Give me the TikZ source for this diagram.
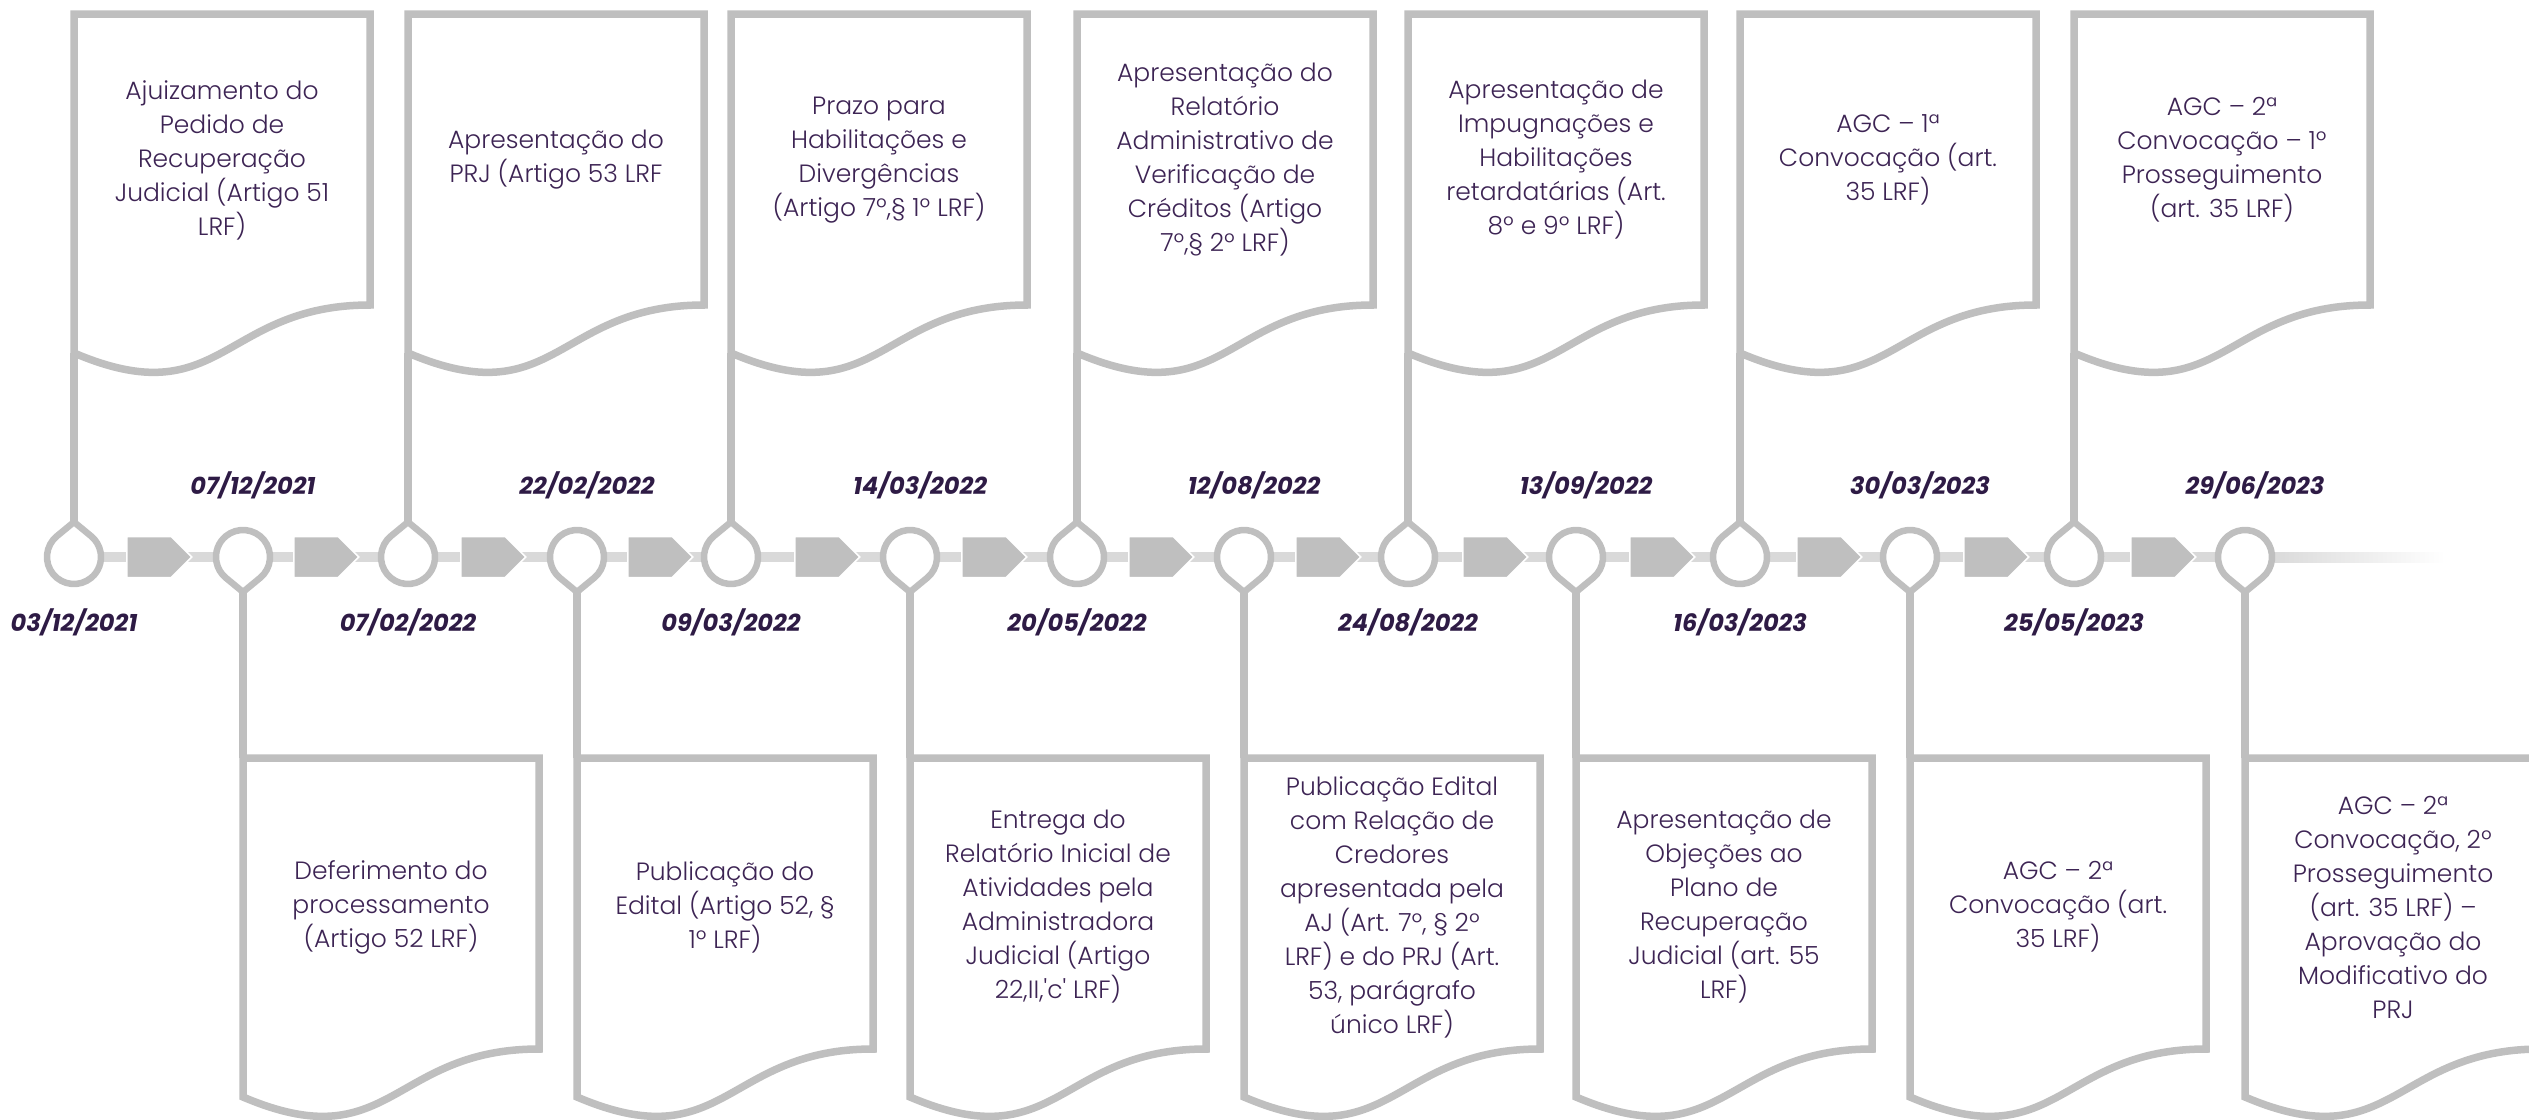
\documentclass[tikz,border=0pt]{standalone}
\usepackage{fontspec}
\setmainfont{Poppins}[UprightFont=* Light, BoldItalicFont=* Bold Italic]
\usepackage{tikz}
\usetikzlibrary{shapes.symbols}

\definecolor{cinza}{HTML}{BFBFBF}
\definecolor{cinzaclaro}{HTML}{D9D9D9}
\definecolor{roxo}{HTML}{3D2454}
\definecolor{roxoescuro}{HTML}{2E1B45}

\tikzstyle{folha} = [draw=cinza, line width=7.5pt, fill=white]
\tikzstyle{pino} = [draw=cinza, line width=6.5pt, fill=white]
\tikzstyle{haste} = [draw=cinza, line width=7.5pt]
\tikzstyle{linha} = [draw=cinzaclaro, line width=10pt]
\tikzstyle{seta} = [signal, signal to=east, fill=cinza, draw=white, line width=1.5pt, minimum width=65pt, minimum height=41pt, inner sep=0pt, anchor=west]
\tikzstyle{texto} = [align=center, text=roxo, font=\fontsize{25}{34}\selectfont, inner sep=0pt]
\tikzstyle{datas} = [text=roxoescuro, font=\fontsize{24}{28}\selectfont\bfseries\itshape, inner sep=0pt]

\tikzset{
  pics/documento/.style={code={
    \draw[folha] (0,0) -- (296,0) -- (296,-291) .. controls (148,-291) and (148,-402) .. (0,-339) -- cycle;
    \coordinate (-topo) at (0,0);
    \coordinate (-base) at (0,-339);
  }},
  pics/gota/.style={code={
    \draw[pino] (#1:35pt) -- ({#1+39.5}:27pt) arc[start angle={#1+39.5}, end angle={#1+320.5}, radius=27pt] -- cycle;
    \coordinate (-c) at (0,0);
    \coordinate (-ponta) at (#1:35pt);
  }}
}

\begin{document}
\begin{tikzpicture}[x=1pt, y=1pt, node distance=65pt]
  \useasboundingbox (0,0) rectangle (2529,-1119);
  \clip (0,0) rectangle (2529,-1119);

  % marcos da linha do tempo
  \coordinate (c1) at (74,-557);
  \coordinate (c2) at (243,-557);
  \coordinate (c3) at (408,-557);
  \coordinate (c4) at (577,-557);
  \coordinate (c5) at (731,-557);
  \coordinate (c6) at (910,-557);
  \coordinate (c7) at (1077,-557);
  \coordinate (c8) at (1244,-557);
  \coordinate (c9) at (1408,-557);
  \coordinate (c10) at (1576,-557);
  \coordinate (c11) at (1740,-557);
  \coordinate (c12) at (1910,-557);
  \coordinate (c13) at (2074,-557);
  \coordinate (c14) at (2245,-557);
  \coordinate (fim) at (2445,-557);

  \draw[linha] (c1) -- (c14);
  \shade[left color=cinzaclaro, right color=white] (2268,-552) rectangle (fim |- 0,-562);

  \node (s1) [seta] at (126,-557) {};
  \node (s2) [seta] at (293,-557) {};
  \node (s3) [seta] at (460,-557) {};
  \node (s4) [seta] at (627,-557) {};
  \node (s5) [seta] at (794,-557) {};
  \node (s6) [seta] at (961,-557) {};
  \node (s7) [seta] at (1128,-557) {};
  \node (s8) [seta] at (1295,-557) {};
  \node (s9) [seta] at (1462,-557) {};
  \node (s10) [seta] at (1629,-557) {};
  \node (s11) [seta] at (1796,-557) {};
  \node (s12) [seta] at (1963,-557) {};
  \node (s13) [seta] at (2130,-557) {};

  % folhas de cima e de baixo
  \pic (f1) at (74,-14) {documento};
  \pic (f3) at (408,-14) {documento};
  \pic (f5) at (731,-14) {documento};
  \pic (f7) at (1077,-14) {documento};
  \pic (f9) at (1408,-14) {documento};
  \pic (f11) at (1740,-14) {documento};
  \pic (f13) at (2074,-14) {documento};
  \pic (f2) at (243,-758) {documento};
  \pic (f4) at (577,-758) {documento};
  \pic (f6) at (910,-758) {documento};
  \pic (f8) at (1244,-758) {documento};
  \pic (f10) at (1576,-758) {documento};
  \pic (f12) at (1910,-758) {documento};
  \pic (f14) at (2245,-758) {documento};

  \pic (p1) at (c1) {gota=90};
  \pic (p2) at (c2) {gota=-90};
  \pic (p3) at (c3) {gota=90};
  \pic (p4) at (c4) {gota=-90};
  \pic (p5) at (c5) {gota=90};
  \pic (p6) at (c6) {gota=-90};
  \pic (p7) at (c7) {gota=90};
  \pic (p8) at (c8) {gota=-90};
  \pic (p9) at (c9) {gota=90};
  \pic (p10) at (c10) {gota=-90};
  \pic (p11) at (c11) {gota=90};
  \pic (p12) at (c12) {gota=-90};
  \pic (p13) at (c13) {gota=90};
  \pic (p14) at (c14) {gota=-90};

  \draw[haste] (f1-base) -- (p1-ponta);
  \draw[haste] (p2-ponta) -- (f2-topo);
  \draw[haste] (f3-base) -- (p3-ponta);
  \draw[haste] (p4-ponta) -- (f4-topo);
  \draw[haste] (f5-base) -- (p5-ponta);
  \draw[haste] (p6-ponta) -- (f6-topo);
  \draw[haste] (f7-base) -- (p7-ponta);
  \draw[haste] (p8-ponta) -- (f8-topo);
  \draw[haste] (f9-base) -- (p9-ponta);
  \draw[haste] (p10-ponta) -- (f10-topo);
  \draw[haste] (f11-base) -- (p11-ponta);
  \draw[haste] (p12-ponta) -- (f12-topo);
  \draw[haste] (f13-base) -- (p13-ponta);
  \draw[haste] (p14-ponta) -- (f14-topo);

  % textos das folhas
  \node (ajuizamento) [texto, above of=c1, node distance=397pt, xshift=148pt] {Ajuizamento do\\Pedido de\\Recuperação\\Judicial (Artigo 51\\LRF)};
  \node (deferimento) [texto, below of=c2, node distance=350pt, xshift=148pt] {Deferimento do\\processamento\\(Artigo 52 LRF)};
  \node (prj) [texto, above of=c3, node distance=397pt, xshift=148pt] {Apresentação do\\PRJ (Artigo 53 LRF};
  \node (edital) [texto, below of=c4, node distance=350pt, xshift=148pt] {Publicação do\\Edital (Artigo 52, §\\1º LRF)};
  \node (prazo) [texto, above of=c5, node distance=397pt, xshift=148pt] {Prazo para\\Habilitações e\\Divergências\\(Artigo 7º,§ 1º LRF)};
  \node (entrega) [texto, below of=c6, node distance=350pt, xshift=148pt] {Entrega do\\Relatório Inicial de\\Atividades pela\\Administradora\\Judicial (Artigo\\22,II,\textquotesingle c\textquotesingle{} LRF)};
  \node (relatorio) [texto, above of=c7, node distance=397pt, xshift=148pt] {Apresentação do\\Relatório\\Administrativo de\\Verificação de\\Créditos (Artigo\\7º,§ 2º LRF)};
  \node (credores) [texto, below of=c8, node distance=350pt, xshift=148pt] {Publicação Edital\\com Relação de\\Credores\\apresentada pela\\AJ (Art. 7º, § 2º\\LRF) e do PRJ (Art.\\53, parágrafo\\único LRF)};
  \node (impugnacoes) [texto, above of=c9, node distance=397pt, xshift=148pt] {Apresentação de\\Impugnações e\\Habilitações\\retardatárias (Art.\\8º e 9º LRF)};
  \node (objecoes) [texto, below of=c10, node distance=350pt, xshift=148pt] {Apresentação de\\Objeções ao\\Plano de\\Recuperação\\Judicial (art. 55\\LRF)};
  \node (agc1) [texto, above of=c11, node distance=397pt, xshift=148pt] {AGC – 1ª\\Convocação (art.\\35 LRF)};
  \node (agc2) [texto, below of=c12, node distance=350pt, xshift=148pt] {AGC – 2ª\\Convocação (art.\\35 LRF)};
  \node (prosseguimento1) [texto, above of=c13, node distance=397pt, xshift=148pt] {AGC – 2ª\\Convocação – 1º\\Prosseguimento\\(art. 35 LRF)};
  \node (prosseguimento2) [texto, below of=c14, node distance=350pt, xshift=148pt] {AGC – 2ª\\Convocação, 2º\\Prosseguimento\\(art. 35 LRF) –\\Aprovação do\\Modificativo do\\PRJ};

  % datas
  \node (d1) [datas, below of=c1] {03/12/2021};
  \node (d2) [datas, above of=c2, node distance=72pt, xshift=10pt] {07/12/2021};
  \node (d3) [datas, below of=c3] {07/02/2022};
  \node (d4) [datas, above of=c4, node distance=72pt, xshift=10pt] {22/02/2022};
  \node (d5) [datas, below of=c5] {09/03/2022};
  \node (d6) [datas, above of=c6, node distance=72pt, xshift=10pt] {14/03/2022};
  \node (d7) [datas, below of=c7] {20/05/2022};
  \node (d8) [datas, above of=c8, node distance=72pt, xshift=10pt] {12/08/2022};
  \node (d9) [datas, below of=c9] {24/08/2022};
  \node (d10) [datas, above of=c10, node distance=72pt, xshift=10pt] {13/09/2022};
  \node (d11) [datas, below of=c11] {16/03/2023};
  \node (d12) [datas, above of=c12, node distance=72pt, xshift=10pt] {30/03/2023};
  \node (d13) [datas, below of=c13] {25/05/2023};
  \node (d14) [datas, above of=c14, node distance=72pt, xshift=10pt] {29/06/2023};
\end{tikzpicture}
\end{document}
